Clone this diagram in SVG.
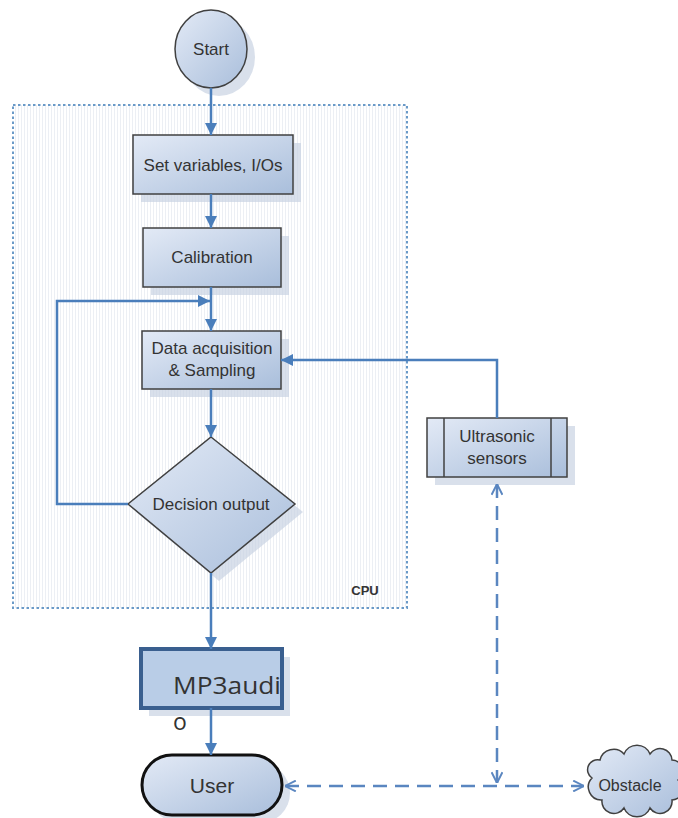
<svg xmlns="http://www.w3.org/2000/svg" width="678" height="818" viewBox="0 0 678 818">
<defs>
<linearGradient id="g" x1="0" y1="0" x2="1" y2="1">
<stop offset="0" stop-color="#e3eaf6"/>
<stop offset="1" stop-color="#a9bedb"/>
</linearGradient>
<pattern id="stripes" width="3" height="10" patternUnits="userSpaceOnUse">
<rect width="3" height="10" fill="#ffffff"/>
<rect width="1" height="10" fill="#eceff4"/>
</pattern>
<marker id="arr" viewBox="0 0 10 10" refX="10" refY="5" markerWidth="12" markerHeight="12" markerUnits="userSpaceOnUse" orient="auto">
<path d="M0,0 L10,5 L0,10 z" fill="#4a7ebb"/>
</marker>
<marker id="open" viewBox="0 0 10 10" refX="10" refY="5" markerWidth="12" markerHeight="12" markerUnits="userSpaceOnUse" orient="auto-start-reverse">
<path d="M1,0.5 L10,5 L1,9.5" fill="none" stroke="#5a86c0" stroke-width="1.6"/>
</marker>
</defs>
<style>
.box{fill:url(#g);stroke:#404040;stroke-width:1.5}
.shadow{fill:#c9d3e3;opacity:0.7}
.lbl{font-family:"Liberation Sans",Arial,sans-serif;font-size:17px;fill:#333333;text-anchor:middle}
.conn{fill:none;stroke:#4a7ebb;stroke-width:2.5}
.dash{fill:none;stroke:#5a86c0;stroke-width:2.5;stroke-dasharray:14 8}
</style>
<rect width="678" height="818" fill="#ffffff"/>

<g id="cpu">
<rect x="13" y="105" width="394" height="503" fill="url(#stripes)" stroke="#6a9ac8" stroke-width="2" stroke-dasharray="2.5 2.5"/>
<text x="365" y="595" style="font-family:'Liberation Sans',Arial,sans-serif;font-size:13px;font-weight:bold;fill:#333" text-anchor="middle">CPU</text>
</g>

<g id="start">
<ellipse cx="219" cy="57" rx="36" ry="39" class="shadow"/>
<ellipse cx="211" cy="49" rx="36" ry="39" class="box"/>
<text x="211" y="55" class="lbl">Start</text>
</g>

<g id="setvars">
<rect x="141" y="143" width="160" height="59" class="shadow"/>
<rect x="133" y="135" width="160" height="59" class="box"/>
<text x="213" y="171" class="lbl">Set variables, I/Os</text>
</g>

<g id="calibration">
<rect x="151" y="236" width="138" height="59" class="shadow"/>
<rect x="143" y="228" width="138" height="59" class="box"/>
<text x="212" y="263" class="lbl">Calibration</text>
</g>

<g id="dataacq">
<rect x="150" y="339" width="139" height="58" class="shadow"/>
<rect x="142" y="331" width="139" height="58" class="box"/>
<text x="212" y="354" class="lbl">Data acquisition</text>
<text x="212" y="376" class="lbl">&amp; Sampling</text>
</g>

<g id="decision">
<polygon points="219,445 303,512 219,581 136,512" class="shadow"/>
<polygon points="211,437 295,504 211,573 128,504" class="box"/>
<text x="211" y="510" class="lbl">Decision output</text>
</g>

<g id="ultrasonic">
<rect x="435" y="426" width="140" height="59" class="shadow"/>
<rect x="427" y="418" width="140" height="59" class="box"/>
<line x1="444" y1="418" x2="444" y2="477" stroke="#404040" stroke-width="1.5"/>
<line x1="551" y1="418" x2="551" y2="477" stroke="#404040" stroke-width="1.5"/>
<text x="497" y="442" class="lbl">Ultrasonic</text>
<text x="497" y="464" class="lbl">sensors</text>
</g>

<g id="mp3">
<rect x="149" y="657" width="141" height="59" class="shadow"/>
<rect x="141" y="649" width="141" height="59" fill="#b9cde7" stroke="#3a5f8f" stroke-width="4"/>
<text x="173" y="694" style="font-family:'Open Sans','Noto Sans',sans-serif;font-size:23px;fill:#333" textLength="108" lengthAdjust="spacingAndGlyphs">MP3audi</text>
<text x="173" y="730" style="font-family:'Open Sans','Noto Sans',sans-serif;font-size:23px;fill:#333">o</text>
</g>

<g id="user">
<rect x="150" y="763" width="140" height="60" rx="30" class="shadow"/>
<rect x="142" y="755" width="140" height="60" rx="30" fill="url(#g)" stroke="#111111" stroke-width="3"/>
<text x="212" y="793" class="lbl" style="font-size:21px">User</text>
</g>

<g id="obstacle">
<path d="M592,778 a10,10 0 0 1 8,-18 a14,14 0 0 1 24,-6 a14,14 0 0 1 26,0 a12,12 0 0 1 22,6 a11,11 0 0 1 6,20 a11,11 0 0 1 -6,20 a12,12 0 0 1 -22,8 a14,14 0 0 1 -26,0 a12,12 0 0 1 -22,-8 a13,13 0 0 1 -10,-22 z" fill="url(#g)" stroke="#404040" stroke-width="1.5"/>
<text x="630" y="791" class="lbl" style="font-size:16px">Obstacle</text>
</g>

<g id="connectors">
<line x1="211" y1="88" x2="211" y2="135" class="conn" marker-end="url(#arr)"/>
<line x1="211" y1="194" x2="211" y2="228" class="conn" marker-end="url(#arr)"/>
<line x1="211" y1="287" x2="211" y2="331" class="conn" marker-end="url(#arr)"/>
<polyline points="128,504 57,504 57,301 210,301" class="conn" marker-end="url(#arr)"/>
<line x1="211" y1="389" x2="211" y2="437" class="conn" marker-end="url(#arr)"/>
<polyline points="497,418 497,360 281,360" class="conn" marker-end="url(#arr)"/>
<line x1="211" y1="573" x2="211" y2="649" class="conn" marker-end="url(#arr)"/>
<line x1="211" y1="708" x2="211" y2="755" class="conn" marker-end="url(#arr)"/>
<line x1="497" y1="484" x2="497" y2="783" class="dash" marker-start="url(#open)" marker-end="url(#open)"/>
<line x1="285" y1="786" x2="584" y2="786" class="dash" marker-start="url(#open)" marker-end="url(#open)"/>
</g>
</svg>
